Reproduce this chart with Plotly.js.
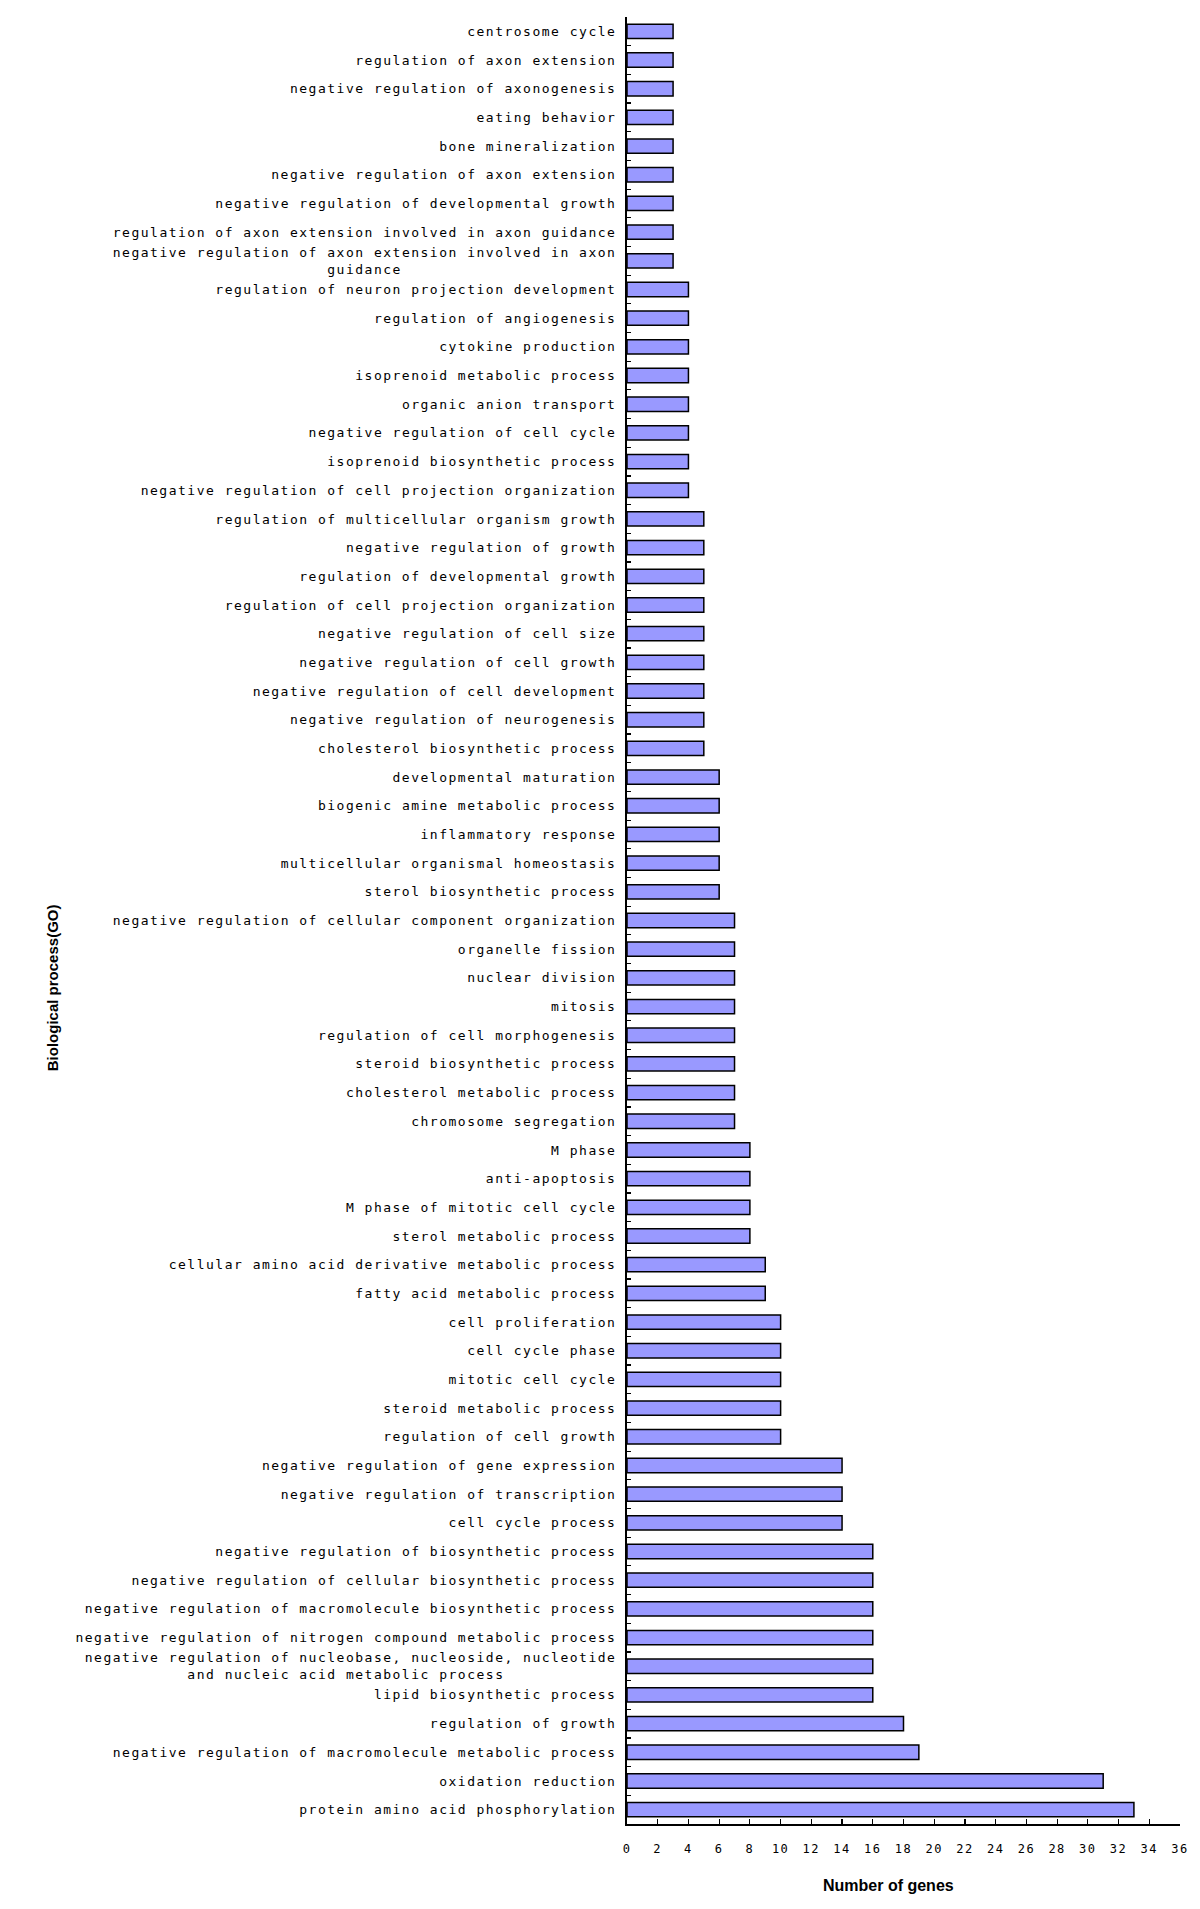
<!DOCTYPE html>
<html>
<head>
<meta charset="utf-8">
<script src="https://cdn.plot.ly/plotly-3.0.1.min.js"></script>
<style>
  body { margin: 0; background: #fff; }
  .ytick text, .xtick text { letter-spacing: 1.5px; }
</style>
</head>
<body>
<div id="go-graph" style="width:1200px;height:1909px;"></div>
<script>
var NB = "\u00a0";

// GO terms, top to bottom as in the figure
var goTerms = [
  "centrosome cycle",
  "regulation of axon extension",
  "negative regulation of axonogenesis",
  "eating behavior",
  "bone mineralization",
  "negative regulation of axon extension",
  "negative regulation of developmental growth",
  "regulation of axon extension involved in axon guidance",
  "negative regulation of axon extension involved in axon<br>guidance" + NB.repeat(23),
  "regulation of neuron projection development",
  "regulation of angiogenesis",
  "cytokine production",
  "isoprenoid metabolic process",
  "organic anion transport",
  "negative regulation of cell cycle",
  "isoprenoid biosynthetic process",
  "negative regulation of cell projection organization",
  "regulation of multicellular organism growth",
  "negative regulation of growth",
  "regulation of developmental growth",
  "regulation of cell projection organization",
  "negative regulation of cell size",
  "negative regulation of cell growth",
  "negative regulation of cell development",
  "negative regulation of neurogenesis",
  "cholesterol biosynthetic process",
  "developmental maturation",
  "biogenic amine metabolic process",
  "inflammatory response",
  "multicellular organismal homeostasis",
  "sterol biosynthetic process",
  "negative regulation of cellular component organization",
  "organelle fission",
  "nuclear division",
  "mitosis",
  "regulation of cell morphogenesis",
  "steroid biosynthetic process",
  "cholesterol metabolic process",
  "chromosome segregation",
  "M phase",
  "anti-apoptosis",
  "M phase of mitotic cell cycle",
  "sterol metabolic process",
  "cellular amino acid derivative metabolic process",
  "fatty acid metabolic process",
  "cell proliferation",
  "cell cycle phase",
  "mitotic cell cycle",
  "steroid metabolic process",
  "regulation of cell growth",
  "negative regulation of gene expression",
  "negative regulation of transcription",
  "cell cycle process",
  "negative regulation of biosynthetic process",
  "negative regulation of cellular biosynthetic process",
  "negative regulation of macromolecule biosynthetic process",
  "negative regulation of nitrogen compound metabolic process",
  "negative regulation of nucleobase, nucleoside, nucleotide<br>and nucleic acid metabolic process" + NB.repeat(12),
  "lipid biosynthetic process",
  "regulation of growth",
  "negative regulation of macromolecule metabolic process",
  "oxidation reduction",
  "protein amino acid phosphorylation"
];

var geneCounts = [
  3, 3, 3, 3, 3, 3, 3, 3, 3,
  4, 4, 4, 4, 4, 4, 4, 4,
  5, 5, 5, 5, 5, 5, 5, 5, 5,
  6, 6, 6, 6, 6,
  7, 7, 7, 7, 7, 7, 7, 7,
  8, 8, 8, 8,
  9, 9,
  10, 10, 10, 10, 10,
  14, 14, 14,
  16, 16, 16, 16, 16, 16,
  18, 19, 31, 33
];

var xTicks = [0, 2, 4, 6, 8, 10, 12, 14, 16, 18, 20, 22, 24, 26, 28, 30, 32, 34, 36];

var data = [{
  type: "bar",
  orientation: "h",
  x: geneCounts,
  y: goTerms,
  marker: {color: "#9999ff", line: {color: "#000000", width: 1.5}},
  width: 0.5,
  hoverinfo: "x+y"
}];

var layout = {
  width: 1200,
  height: 1909,
  margin: {l: 627, r: 20, t: 17, b: 85},
  paper_bgcolor: "#ffffff",
  plot_bgcolor: "#ffffff",
  showlegend: false,
  font: {family: "DejaVu Sans Mono", size: 12, color: "#000"},
  xaxis: {
    range: [0, 36],
    tickvals: xTicks,
    ticktext: xTicks.map(String),
    ticks: "inside",
    ticklen: 5,
    tickwidth: 1.2,
    tickcolor: "#000",
    showline: true,
    linecolor: "#000",
    linewidth: 2,
    showgrid: false,
    zeroline: false,
    fixedrange: true,
    ticklabelstandoff: 13,
    tickfont: {family: "DejaVu Sans Mono", size: 12, color: "#000"}
  },
  yaxis: {
    type: "category",
    autorange: "reversed",
    ticks: "inside",
    tickson: "boundaries",
    ticklen: 4,
    tickwidth: 1.2,
    tickcolor: "#000",
    showline: true,
    linecolor: "#000",
    linewidth: 2,
    showgrid: false,
    zeroline: false,
    fixedrange: true,
    ticklabelstandoff: 6,
    tickfont: {family: "DejaVu Sans Mono", size: 13, color: "#000"}
  },
  annotations: [
    {
      text: "<b>Number of genes</b>",
      xref: "paper", yref: "paper",
      x: 0.472, y: -0.0285, xanchor: "center", yanchor: "top",
      showarrow: false,
      font: {family: "Liberation Sans", size: 16, color: "#000"}
    },
    {
      text: "<b>Biological process(GO)</b>",
      xref: "paper", yref: "paper",
      x: -1.04, y: 0.463, xanchor: "center", yanchor: "middle",
      textangle: -90,
      showarrow: false,
      font: {family: "Liberation Sans", size: 15, color: "#000"}
    }
  ]
};

Plotly.newPlot("go-graph", data, layout, {displayModeBar: false, staticPlot: true});
</script>
</body>
</html>
